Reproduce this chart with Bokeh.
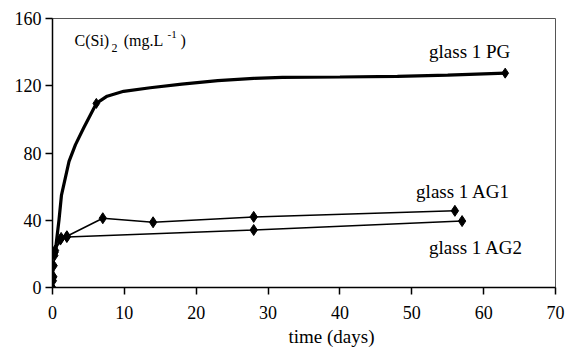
from bokeh.plotting import figure
from bokeh.models import Range1d, Label, FixedTicker, Title, LinearAxis
from bokeh.embed import file_html
from bokeh.resources import INLINE

# ---- data ----
# glass 1 PG : traced curve and measured points
pg_line_t = [0.25, 0.4, 0.9, 1.25, 2.3, 3.2, 4.35, 6.1, 7.6, 9.9, 13.6, 18, 23, 28, 32, 40, 48, 55, 63]
pg_line_c = [18, 22, 40, 55, 75, 85, 95, 109.5, 113.8, 116.7, 118.8, 121, 123, 124.4, 125, 125.2, 125.6, 126.3, 127.5]
pg_pts_t = [0.0, 0.1, 0.2, 0.3, 6.1, 63]
pg_pts_c = [0, 6, 13, 19, 109.5, 127.5]

# glass 1 AG1
ag1_t = [0.05, 0.3, 1.2, 2.0, 7.0, 14.0, 28.0, 56.0]
ag1_c = [4, 21, 29.5, 30.5, 41.2, 38.8, 42.0, 45.6]

# glass 1 AG2
ag2_t = [0.1, 0.35, 1.1, 2.0, 28.0, 57.0]
ag2_c = [6.5, 22, 28.5, 30.0, 34.2, 39.5]

x_ticks = [0, 10, 20, 30, 40, 50, 60, 70]
y_ticks = [0, 40, 80, 120, 160]

FONT = "Liberation Serif"

p = figure(width=577, height=352, output_backend="svg", toolbar_location=None,
           x_range=Range1d(0, 70), y_range=Range1d(0, 160),
           x_axis_location=None, y_axis_location=None)
p.min_border_left = 52
p.min_border_right = 22
p.min_border_top = 18
p.min_border_bottom = 65
p.background_fill_color = "white"
p.border_fill_color = "white"
p.outline_line_color = "#555555"
p.outline_line_width = 1
p.xgrid.visible = False
p.ygrid.visible = False

def make_axis(ticks, standoff):
    return LinearAxis(
        ticker=FixedTicker(ticks=ticks),
        minor_tick_line_color=None,
        major_tick_in=0, major_tick_out=7,
        axis_line_color="black", axis_line_width=1.5,
        major_tick_line_color="black", major_tick_line_width=1.5,
        major_label_text_font=FONT,
        major_label_text_font_size="18px",
        major_label_text_color="black",
        major_label_standoff=standoff,
    )

xa = make_axis(x_ticks, 11)
ya = make_axis(y_ticks, 4)
p.add_layout(xa, "below")
p.add_layout(ya, "left")

# x axis title, placed below the axis
t = Title(text="time (days)", align="left", offset=236, standoff=5,
          text_font=FONT, text_font_size="19px", text_font_style="normal",
          text_color="black")
p.add_layout(t, "below")

# lines
p.line(pg_line_t, pg_line_c, line_color="black", line_width=3.2)
p.line(ag1_t, ag1_c, line_color="black", line_width=1.5)
p.line(ag2_t, ag2_c, line_color="black", line_width=1.5)

# markers
p.scatter(pg_pts_t, pg_pts_c, marker="diamond", size=10, color="black")
p.scatter(ag1_t, ag1_c, marker="diamond", size=11, color="black")
p.scatter(ag2_t, ag2_c, marker="diamond", size=11, color="black")

def lab(text, x, y, size, align="left"):
    p.add_layout(Label(x=x, y=y, text=text, text_font=FONT, text_font_size=size,
                       text_color="black", text_align=align, text_baseline="alphabetic"))

dy = 4.2
lab("glass 1 PG", 52.4, 136.0 + dy, "19px")
lab("glass 1 AG1", 50.6, 53.0 + dy, "19px")
lab("glass 1 AG2", 52.4, 19.5 + dy, "19px")

# C(Si)2 (mg.L-1)
lab("C(Si)", 3.06, 142.5 + dy, "16px")
lab("2", 8.2, 138.5 + dy, "12px")
lab("(mg.L", 9.9, 142.5 + dy, "16px")
lab("-1", 16.0, 146.0 + dy, "11px")
lab(")", 17.8, 142.5 + dy, "16px")

open("out.html", "w").write(file_html(p, INLINE))
